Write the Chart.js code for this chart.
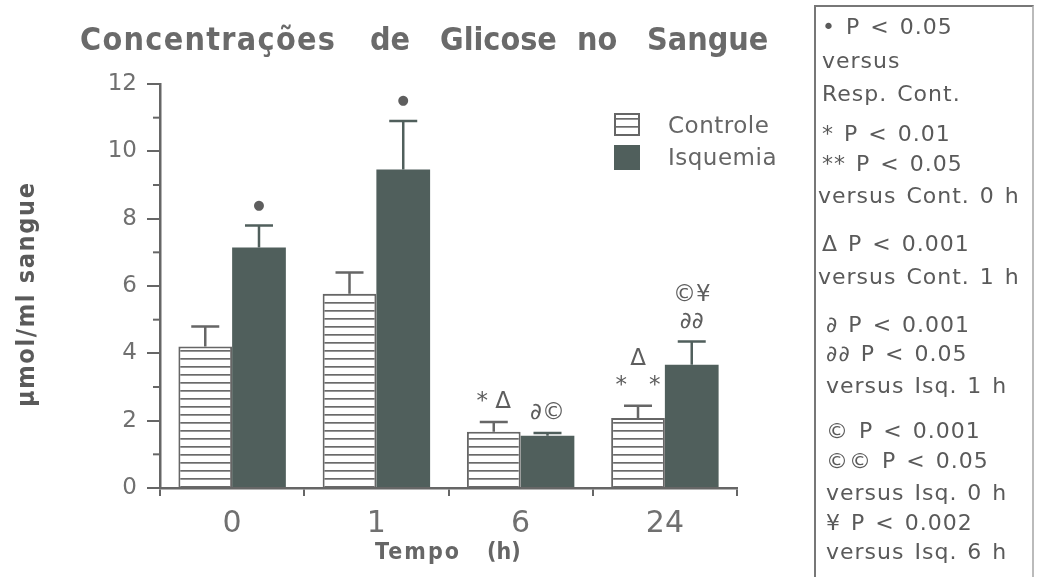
<!DOCTYPE html>
<html>
<head>
<meta charset="utf-8">
<script src="https://cdn.jsdelivr.net/npm/chart.js@4/dist/chart.umd.min.js"></script>
<style>
body { margin: 0; background: #fff; }
#wrap { position: relative; width: 1037px; height: 577px; overflow: hidden; }
#chart { position: absolute; left: 0; top: 0; }
#box { position: absolute; left: 814px; top: 5px; width: 216px; height: 620px; border: 2px solid #777; border-bottom: none; border-right-color: #bbb; }
.n { position: absolute; font: 22px "DejaVu Sans", sans-serif; color: #5a5a5a; white-space: nowrap; line-height: 1; letter-spacing: 1px; word-spacing: 2px; }
</style>
</head>
<body>
<div id="wrap">
  <canvas id="chart" width="1037" height="577"></canvas>
  <div id="box"></div>
</div>
<script>
// data
var categories = ['0', '1', '6', '24'];
var controle = [4.2, 5.77, 1.67, 2.08];
var controleErr = [0.6, 0.63, 0.29, 0.36];
var isquemia = [7.14, 9.46, 1.55, 3.66];
var isquemiaErr = [0.66, 1.44, 0.08, 0.69];
var controleMarks = [[], [], ['* Δ'], ['*   *', 'Δ']];
var isquemiaMarks = [['●'], ['●'], ['∂©'], ['∂∂', '©¥']];
var titleWords = ['Concentrações', 'de', 'Glicose', 'no', 'Sangue'];
var notes = ['• P < 0.05', 'versus', 'Resp. Cont.', '* P < 0.01', '** P < 0.05', 'versus Cont. 0 h',
  'Δ P < 0.001', 'versus Cont. 1 h', '∂ P < 0.001', '∂∂ P < 0.05', 'versus Isq. 1 h',
  '© P < 0.001', '©© P < 0.05', 'versus Isq. 0 h', '¥ P < 0.002', 'versus Isq. 6 h'];

var GREY = '#666';
var DARK = '#505f5c';
var NARROW = '"Liberation Sans Narrow", "DejaVu Sans Condensed", sans-serif';

// notes panel on the right
var noteY = [28, 62, 95, 135, 165, 197, 245, 278, 326, 355, 387, 432, 462, 494, 524, 553];
var noteX = [822, 822, 822, 822, 822, 818, 822, 818, 826, 826, 826, 826, 826, 826, 826, 826];
notes.forEach(function (t, i) {
  var d = document.createElement('div');
  d.className = 'n';
  d.textContent = t;
  d.style.left = noteX[i] + 'px';
  d.style.top = (noteY[i] - 12) + 'px';
  document.getElementById('wrap').appendChild(d);
});

// horizontal stripe fill for Controle
function stripes() {
  var c = document.createElement('canvas');
  c.width = 8; c.height = 8;
  var g = c.getContext('2d');
  g.fillStyle = '#fff';
  g.fillRect(0, 0, 8, 8);
  g.fillStyle = '#6a6a6a';
  g.fillRect(0, 6, 8, 1.7);
  return g.createPattern(c, 'repeat');
}
var stripeFill = stripes();

// text spread to a given width (never squeezed)
function spread(ctx, text, x, y, width) {
  ctx.letterSpacing = '0px';
  var w = ctx.measureText(text).width;
  var ls = Math.max(0, (width - w) / Math.max(1, text.length - 1));
  ctx.letterSpacing = ls + 'px';
  ctx.fillText(text, x, y);
  ctx.letterSpacing = '0px';
}

var extras = {
  id: 'extras',
  afterDatasetsDraw: function (chart) {
    var ctx = chart.ctx, y = chart.scales.y;
    var sets = [[0, controle, controleErr, controleMarks], [1, isquemia, isquemiaErr, isquemiaMarks]];
    sets.forEach(function (s) {
      var meta = chart.getDatasetMeta(s[0]);
      meta.data.forEach(function (bar, i) {
        var top = y.getPixelForValue(s[1][i]);
        var et = y.getPixelForValue(s[1][i] + s[2][i]);
        ctx.save();
        ctx.strokeStyle = s[0] == 0 ? GREY : DARK;
        ctx.lineWidth = 2.5;
        ctx.beginPath();
        ctx.moveTo(bar.x, top);
        ctx.lineTo(bar.x, et);
        ctx.moveTo(bar.x - 14, et);
        ctx.lineTo(bar.x + 14, et);
        ctx.stroke();
        ctx.fillStyle = '#5e5e5e';
        ctx.textAlign = 'center';
        ctx.textBaseline = 'middle';
        s[3][i].forEach(function (t, k) {
          ctx.font = t == '●' ? '13px "DejaVu Sans"' : '23px "DejaVu Sans"';
          ctx.fillText(t, bar.x, et - 20 - k * 27);
        });
        ctx.restore();
      });
    });
  },
  afterDraw: function (chart) {
    var ctx = chart.ctx, y = chart.scales.y, left = chart.chartArea.left;
    ctx.save();
    // minor ticks on the y axis
    ctx.strokeStyle = GREY;
    ctx.lineWidth = 2;
    for (var v = 1; v < 12; v += 2) {
      var p = y.getPixelForValue(v);
      ctx.beginPath();
      ctx.moveTo(left - 7, p);
      ctx.lineTo(left, p);
      ctx.stroke();
    }
    // legend
    ctx.fillStyle = stripeFill;
    ctx.fillRect(614, 113, 26, 23);
    ctx.strokeRect(615, 114, 24, 21);
    ctx.fillStyle = DARK;
    ctx.fillRect(614, 145, 26, 25);
    ctx.fillStyle = '#666';
    ctx.font = '23px "DejaVu Sans"';
    ctx.textBaseline = 'middle';
    ctx.letterSpacing = '0.5px';
    ctx.fillText(chart.data.datasets[0].label, 668, 127);
    ctx.fillText(chart.data.datasets[1].label, 668, 159);
    ctx.letterSpacing = '0px';
    // title, words spread like the original
    var spans = [[80, 335], [370, 409], [440, 548], [577, 616], [647, 768]];
    ctx.font = 'bold 32px ' + NARROW;
    ctx.fillStyle = '#6a6a6a';
    ctx.textBaseline = 'alphabetic';
    titleWords.forEach(function (w, i) {
      spread(ctx, w, spans[i][0], 50, spans[i][1] - spans[i][0]);
    });
    // axis titles
    ctx.font = 'bold 23px ' + NARROW;
    ctx.fillStyle = '#666';
    spread(ctx, 'Tempo', 375, 559, 84);
    spread(ctx, '(h)', 487, 559, 30);
    ctx.translate(34, 407);
    ctx.rotate(-Math.PI / 2);
    ctx.fillStyle = '#5a5a5a';
    ctx.font = 'bold 25px ' + NARROW;
    spread(ctx, 'µmol/ml sangue', 0, 0, 224);
    ctx.restore();
  }
};

new Chart(document.getElementById('chart'), {
  type: 'bar',
  data: {
    labels: categories,
    datasets: [{
      label: 'Controle',
      data: controle,
      backgroundColor: stripeFill,
      borderColor: GREY,
      borderWidth: 2,
      borderSkipped: 'bottom',
      categoryPercentage: 0.745,
      barPercentage: 1.0
    }, {
      label: 'Isquemia',
      data: isquemia,
      backgroundColor: DARK,
      borderWidth: 0,
      categoryPercentage: 0.745,
      barPercentage: 1.0
    }]
  },
  options: {
    responsive: false,
    animation: false,
    layout: { padding: { left: 0, right: 300, top: 84, bottom: 0 } },
    plugins: { legend: { display: false }, tooltip: { enabled: false } },
    scales: {
      x: {
        afterFit: function (s) { s.height = 89; },
        grid: { offset: true, drawOnChartArea: false, tickLength: 8, color: GREY, lineWidth: 2 },
        border: { color: GREY, width: 2.5 },
        ticks: { color: '#707070', font: { size: 30, family: 'DejaVu Sans' }, padding: 10 }
      },
      y: {
        min: 0, max: 12,
        afterFit: function (s) { s.width = 160; },
        grid: { drawOnChartArea: false, tickLength: 13, color: GREY, lineWidth: 2 },
        border: { color: GREY, width: 2.5 },
        ticks: { stepSize: 2, color: '#707070', font: { size: 23, family: 'DejaVu Sans' }, padding: 10 }
      }
    }
  },
  plugins: [extras]
});
</script>
</body>
</html>
